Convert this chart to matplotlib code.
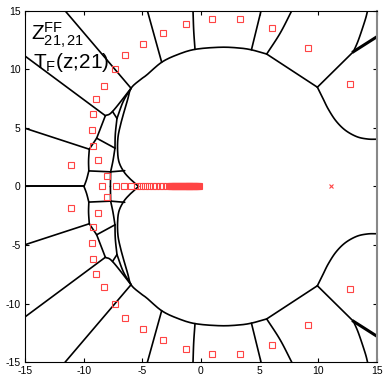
import numpy as np
import matplotlib.pyplot as plt

plt.rcParams['font.family'] = ['Liberation Sans', 'DejaVu Sans']
plt.rcParams['mathtext.fontset'] = 'custom'
plt.rcParams['mathtext.rm'] = 'Liberation Sans'
plt.rcParams['mathtext.it'] = 'Liberation Sans:italic'
plt.rcParams['axes.unicode_minus'] = False

# zeros off the real axis (upper half, lower half is the conjugate)
zeros_x = [-1.25, -3.21, -4.91, -6.45, -7.35, -8.24, -8.92, -9.18, -9.26, -9.18,
           -8.80, -8.04, -11.08, 0.97, 3.36, 6.03, 9.10, 12.68]
zeros_y = [13.86, 13.07, 12.13, 11.19, 10.03, 8.60, 7.44, 6.16, 4.80, 3.46,
           2.24, 0.88, 1.84, 14.26, 14.26, 13.49, 11.79, 8.77]

# zeros on the negative real axis
axis_zeros = [-8.41, -7.22, -6.59, -5.94, -5.45, -5.10, -4.76, -4.42, -4.12, -3.82,
              -3.52, -3.22, -2.93, -2.65, -2.55, -2.46, -2.37, -2.28, -2.19, -2.10,
              -2.02, -1.94, -1.86, -1.78, -1.70, -1.62, -1.54, -1.46, -1.38, -1.30,
              -1.22, -1.14, -1.06, -0.98, -0.90, -0.82, -0.74, -0.66, -0.58, -0.50,
              -0.42, -0.34, -0.26, -0.18]

pole_x = [11.06]
pole_y = [0.0]

# boundary curves, upper half (mirrored for the lower half)
curves = [
    [(-11.59, 15), (-5.96, 8.38)],
    [(-15, 11.13), (-8.15, 6.04)],
    [(-8.15, 6.04), (-7.54, 6.40), (-5.96, 8.38)],
    [(-7.54, 6.40), (-7.16, 5.81)],
    [(-5.96, 8.38), (-6.62, 7.27), (-7.16, 5.81)],
    [(-7.16, 5.81), (-7.30, 4.48), (-7.33, 3.27)],
    [(-8.15, 6.04), (-8.89, 4.12)],
    [(-8.89, 4.12), (-7.33, 3.27)],
    [(-8.89, 4.12), (-9.52, 3.18)],
    [(-15, 4.97), (-9.52, 3.18)],
    [(-9.52, 3.18), (-9.58, 2.2), (-9.56, 1.33)],
    [(-9.56, 1.33), (-9.75, 0.6), (-9.97, 0)],
    [(-15, 0), (-9.97, 0)],
    [(-9.56, 1.33), (-7.7, 1.25)],
    [(-7.33, 3.27), (-7.5, 2.2), (-7.7, 1.25)],
    [(-7.7, 1.25), (-6.5, 1.35)],
    [(-7.7, 1.25), (-7.72, 0)],
    # big arc from the real axis round to the top right
    [(-5.32, 0), (-5.96, 0.57), (-6.56, 1.24), (-6.99, 2.10), (-7.11, 3.12),
     (-7.07, 4.23), (-6.86, 5.25), (-6.56, 6.36), (-6.26, 7.38), (-5.96, 8.38),
     (-5.20, 9.09), (-4.63, 9.51), (-3.35, 10.6), (-2.0, 11.25), (-0.51, 11.7),
     (1.62, 11.88), (3.2, 11.82), (4.3, 11.66), (5.6, 11.3)],
    [(-4.57, 15), (-3.35, 10.6)],
    [(-0.68, 15), (-0.62, 13.3), (-0.51, 11.7)],
    [(5.12, 15), (4.3, 11.66)],
    [(7.74, 15), (6.74, 13.07), (5.6, 11.3)],
    [(5.6, 11.3), (9.92, 8.47)],
    [(9.92, 8.47), (12.99, 11.5)],
    [(12.99, 11.5), (13.42, 12.5), (13.99, 14.2), (14.2, 15)],
    [(9.92, 8.47), (10.4, 7.5), (10.85, 6.6), (11.5, 5.6), (12.3, 4.8),
     (13.28, 4.25), (14.2, 4.05), (15, 4.03)],
]
thick = [(12.99, 11.5), (15, 12.78)]


def smooth(pts, n=12):
    # catmull-rom through the read-off points
    p = np.array(pts, dtype=float)
    if len(p) < 3:
        return p
    p = np.vstack([2 * p[0] - p[1], p, 2 * p[-1] - p[-2]])
    out = []
    for i in range(1, len(p) - 2):
        p0, p1, p2, p3 = p[i - 1], p[i], p[i + 1], p[i + 2]
        for t in np.linspace(0, 1, n, endpoint=False):
            out.append(0.5 * (2 * p1 + (-p0 + p2) * t
                              + (2 * p0 - 5 * p1 + 4 * p2 - p3) * t ** 2
                              + (-p0 + 3 * p1 - 3 * p2 + p3) * t ** 3))
    out.append(p[-2])
    return np.array(out)


fig = plt.figure(figsize=(3.88, 3.80), dpi=100)
ax = fig.add_axes([0.0644, 0.0466, 0.9072, 0.9253])

for c in curves:
    c = smooth(c)
    ax.plot(c[:, 0], c[:, 1], 'k-', lw=1.2, solid_capstyle='round')
    ax.plot(c[:, 0], -c[:, 1], 'k-', lw=1.2, solid_capstyle='round')
t = np.array(thick)
ax.plot(t[:, 0], t[:, 1], 'k-', lw=2.2)
ax.plot(t[:, 0], -t[:, 1], 'k-', lw=2.2)

red = '#ff4444'
ax.plot(zeros_x, zeros_y, 's', mfc='none', mec=red, ms=3.7, mew=0.8)
ax.plot(zeros_x, -np.array(zeros_y), 's', mfc='none', mec=red, ms=3.7, mew=0.8)
ax.plot(axis_zeros, np.zeros(len(axis_zeros)), 's', mfc='none', mec=red, ms=3.7, mew=0.8)
ax.plot(pole_x, pole_y, 'x', color=red, ms=3.5, mew=0.8)

ax.text(-14.5, 12.45, r'Z$^{\mathrm{FF}}_{21,21}$', fontsize=15, va='baseline')
ax.text(-14.3, 10.1, r'T$_{\mathrm{F}}$(z;21)', fontsize=15, va='baseline')

ax.set_xlim(-15, 15)
ax.set_ylim(-15, 15)
ax.set_xticks([-15, -10, -5, 0, 5, 10, 15])
ax.set_yticks([-15, -10, -5, 0, 5, 10, 15])
ax.tick_params(direction='in', top=True, right=True, length=3, labelsize=7.5, pad=3)
for s in ax.spines.values():
    s.set_linewidth(0.8)
ax.spines['right'].set_color('#888888')
ax.spines['right'].set_linewidth(1.5)

fig.savefig('out.png', dpi=100)
